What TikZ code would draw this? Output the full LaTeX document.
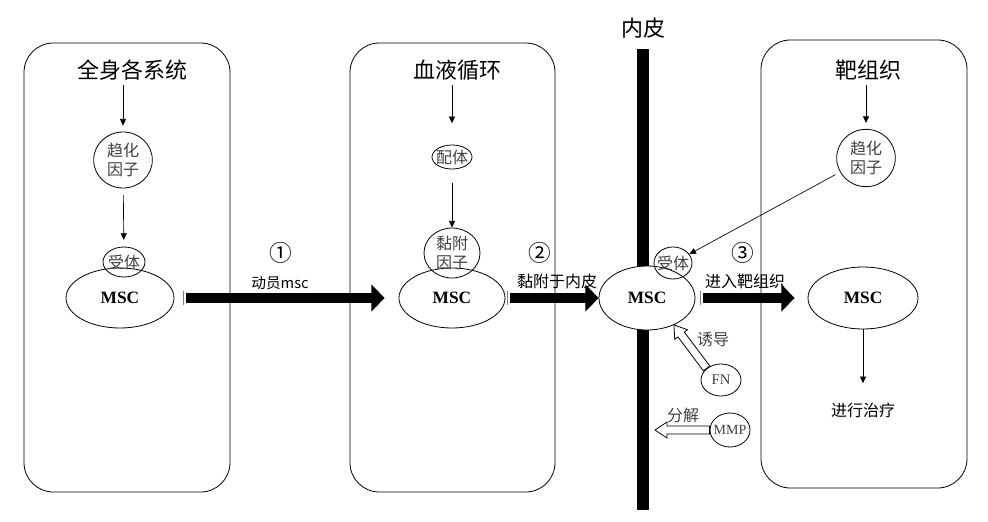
\documentclass[tikz,border=0pt]{standalone}
\usepackage{fontspec}
\setmainfont{Liberation Serif}
\newfontfamily\cjk{Noto Sans CJK SC}
\usetikzlibrary{arrows.meta,shapes.geometric,calc}

% open (white) arrow from #1 to #2
\newcommand{\hollowarr}[2]{%
\draw [hollow] ($(#1)!3pt!90:(#2)$) -- ($(#2)!9pt!(#1)!3pt!90:(#2)$) -- ($(#2)!9pt!(#1)!6pt!90:(#2)$) -- (#2)
  -- ($(#2)!9pt!(#1)!6pt!-90:(#2)$) -- ($(#2)!9pt!(#1)!3pt!-90:(#2)$) -- ($(#1)!3pt!-90:(#2)$) -- cycle ;}

\begin{document}
\begin{tikzpicture}[x=0.75pt,y=0.75pt,yscale=-1,xscale=1,
  box/.style={rounded corners=22pt, line width=0.6pt},
  ttl/.style={font=\cjk\fontsize{16.5pt}{18pt}\selectfont},
  lbl/.style={font=\cjk\fontsize{12pt}{14pt}\selectfont},
  num/.style={font=\cjk\fontsize{17pt}{19pt}\selectfont},
  cell/.style={draw, ellipse, fill=white, inner sep=0pt, line width=0.6pt, font=\bfseries\fontsize{13pt}{15pt}\selectfont},
  circ/.style={draw, ellipse, inner sep=0pt, align=center, line width=0.6pt, lbl, text=black!75},
  thinarr/.style={-{Triangle[length=5pt,width=4.5pt]}, line width=0.5pt},
  bigarr/.style={line width=8pt, -{Triangle[length=10pt,width=20pt]}},
  hollow/.style={fill=white, line width=0.6pt}]
\useasboundingbox (0,0) rectangle (988,521);

%Rounded Rect
\draw [box] (24,43) rectangle (230,492) ;
%Rounded Rect
\draw [box] (350,43) rectangle (555,492) ;
%Rounded Rect
\draw [box] (761,40) rectangle (967,488) ;

%Straight Lines
\draw [line width=9pt] (643,49) -- (643,510) ;

%Shape: Ellipse
\draw (120,298) node [cell, minimum width=81pt, minimum height=45pt] (msc1) {MSC};
\draw (124,262) node [circ, minimum width=31.5pt, minimum height=22.5pt] (rec1) {\makebox[0pt]{受体}};
\draw (123,160) node [circ, minimum width=44pt, minimum height=42pt] (chem1) {趋化\\因子};

\draw (452,298) node [cell, minimum width=79.5pt, minimum height=45pt] (msc2) {MSC};
\draw (452,253) node [circ, minimum width=42pt, minimum height=37.5pt] (adh) {黏附\\因子};
\draw (452,157) node [circ, minimum width=30pt, minimum height=18pt] (lig) {\makebox[0pt]{配体}};

\draw (647,298) node [cell, minimum width=72pt, minimum height=48pt] (msc3) {MSC};
\draw (673,263) node [circ, minimum width=28.5pt, minimum height=24pt] (rec3) {\makebox[0pt]{受体}};
\draw (721,380) node [circ, minimum width=30pt, minimum height=24pt, font=\fontsize{11pt}{13pt}\selectfont] (fn) {FN};
\draw (730,430) node [circ, minimum width=30pt, minimum height=25.5pt, font=\fontsize{10.5pt}{12pt}\selectfont] (mmp) {\makebox[0pt]{MMP}};

\draw (863,298) node [cell, minimum width=82.5pt, minimum height=46.5pt] (msc4) {MSC};
\draw (866,158) node [circ, minimum width=44pt, minimum height=43pt] (chem3) {趋化\\因子};

% Text Node
\draw (132,70) node [ttl] (sys) {全身各系统};
% Text Node
\draw (457,70) node [ttl] (blood) {血液循环};
% Text Node
\draw (868,70) node [ttl] (target) {靶组织};
% Text Node
\draw (643,28) node [ttl] (endo) {内皮};
% Text Node
\draw (863,410) node [lbl] (treat) {进行治疗};

% Text Node
\draw (281,253) node [num] (num1) {①};
\draw (280,283) node [lbl, font=\cjk\fontsize{11pt}{13pt}\selectfont] (mob) {动员msc};
% Text Node
\draw (540,253) node [num] (num2) {②};
\draw (557,281) node [lbl] (attach) {黏附于内皮};
% Text Node
\draw (743,253) node [num] (num3) {③};
\draw (745,281) node [lbl] (enter) {进入靶组织};
% Text Node
\draw (713,340) node [lbl, text=black!75] (induce) {诱导};
\draw (683,415) node [lbl, text=black!75] (split) {分解};

%Straight Lines
\draw [thinarr, shorten >=4.5pt] (chem1 |- sys.south) -- (chem1) ;
\draw [thinarr, shorten <=5pt, shorten >=5pt] (chem1) -- (rec1) ;
\draw [thinarr, shorten >=16pt] (lig |- blood.south) -- (lig) ;
\draw [thinarr, shorten <=10pt] (lig) -- (adh) ;
\draw [thinarr, shorten >=4.5pt] (chem3 |- target.south) -- (chem3) ;
\draw [thinarr, shorten <=4pt] (chem3) -- (rec3) ;
\draw [thinarr, shorten >=11pt] (msc4) -- (treat) ;

%Big Arrows
\draw [gray, line width=0.5pt] (183,291) -- (183,305) ;
\draw [bigarr, shorten <=9pt, shorten >=10.5pt] (msc1) -- (msc2) ;
\draw [gray, line width=0.5pt] (507,291) -- (507,305) ;
\draw [bigarr, shorten <=3.75pt] (msc2) -- (msc3) ;
\draw [gray, line width=0.5pt] (700,291) -- (700,305) ;
\draw [bigarr, shorten <=6pt, shorten >=9.75pt] (msc3) -- (msc4) ;

%Open Arrows
\coordinate (mmptip) at (655,430) ;
\hollowarr{fn.north west}{msc3.-45}
\hollowarr{mmp.west}{mmptip}

\end{tikzpicture}
\end{document}
